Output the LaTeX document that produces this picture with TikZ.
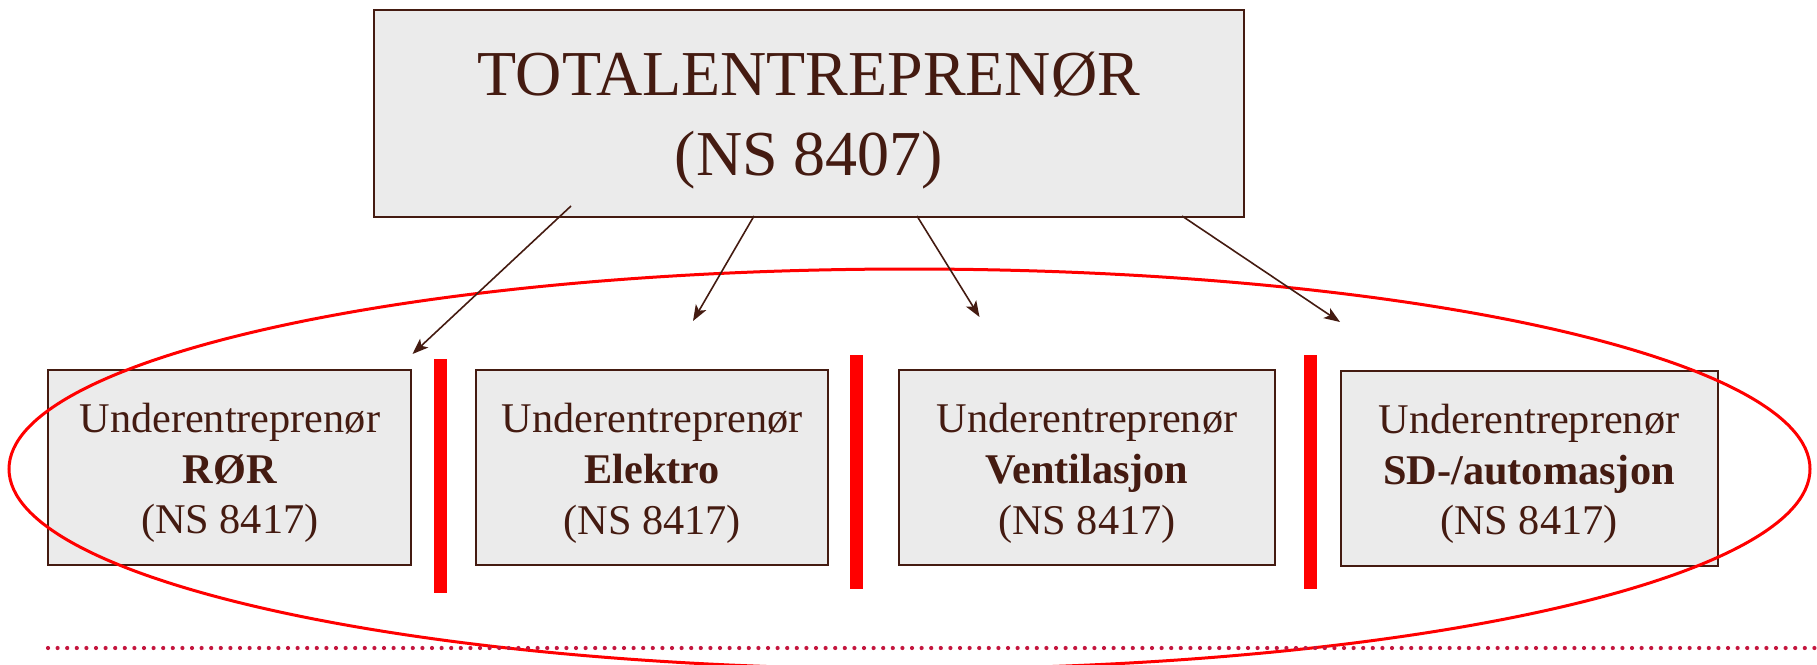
\documentclass[tikz,border=0pt]{standalone}
\usepackage{fontspec}
\setmainfont{Liberation Serif}
\usetikzlibrary{arrows.meta}
\definecolor{brn}{RGB}{68,27,17}
\definecolor{boxgray}{RGB}{235,235,235}
\definecolor{dotred}{RGB}{196,22,62}
\begin{document}
\begin{tikzpicture}[x=1pt,y=-1pt,
  box/.style={draw=brn, line width=2pt, fill=boxgray, inner sep=0pt},
  toptext/.style={text=brn, align=center, inner sep=0pt, font=\fontsize{64}{80}\selectfont, yshift=-7pt},
  subtext/.style={text=brn, align=center, inner sep=0pt, font=\fontsize{42.3}{50.7}\selectfont, yshift=-6pt},
  topbox/.style={box, minimum width=870pt, minimum height=207pt},
  subbox/.style={box, minimum height=195pt},
  bar/.style={fill=red, inner sep=0pt, minimum width=13pt, minimum height=234pt},
  arr/.style={draw=brn, line width=1.6pt, -{Stealth[length=16pt,width=12pt,inset=4pt]}},
  oval/.style={draw=red, line width=3pt},
  dotline/.style={draw=dotred, line width=4.2pt, line cap=round, dash pattern=on 0pt off 9.6pt}
]
\useasboundingbox (0,0) rectangle (1817,664);
\node[topbox, label={[toptext]center:{TOTALENTREPRENØR\\(NS 8407)}}] (top) at (809,113.5) {};
\node[subbox, minimum width=363pt, label={[subtext]center:{Underentreprenør\\\textbf{RØR}\\(NS 8417)}}] (ror) at (229.8,467) {};
\node[subbox, minimum width=352pt, label={[subtext]center:{Underentreprenør\\\textbf{Elektro}\\(NS 8417)}}] (el) at (652.3,467.5) {};
\node[subbox, minimum width=376pt, label={[subtext]center:{Underentreprenør\\\textbf{Ventilasjon}\\(NS 8417)}}] (vent) at (1087,467.5) {};
\node[subbox, minimum width=377pt, label={[subtext]center:{Underentreprenør\\\textbf{SD-/automasjon}\\(NS 8417)}}] (sd) at (1529,468) {};
\node[bar] (bar1) at (440.8,475.5) {};
\node[bar] (bar2) at (856.8,472.3) {};
\node[bar] (bar3) at (1310.8,472.3) {};
\draw[oval] (909.5,469) ellipse [x radius=900.5pt, y radius=200pt];
\draw[dotline] (48,648) -- (1815,648);
\coordinate (s1) at (571,206);
\coordinate (s2) at (754,216);
\coordinate (s3) at (917,216);
\coordinate (s4) at (1182,216);
\coordinate (e1) at (412.5,354);
\coordinate (e2) at (693,321);
\coordinate (e3) at (979.5,317);
\coordinate (e4) at (1340,322);
\draw[arr] (s1) -- (e1);
\draw[arr] (s2) -- (e2);
\draw[arr] (s3) -- (e3);
\draw[arr] (s4) -- (e4);
\end{tikzpicture}
\end{document}
